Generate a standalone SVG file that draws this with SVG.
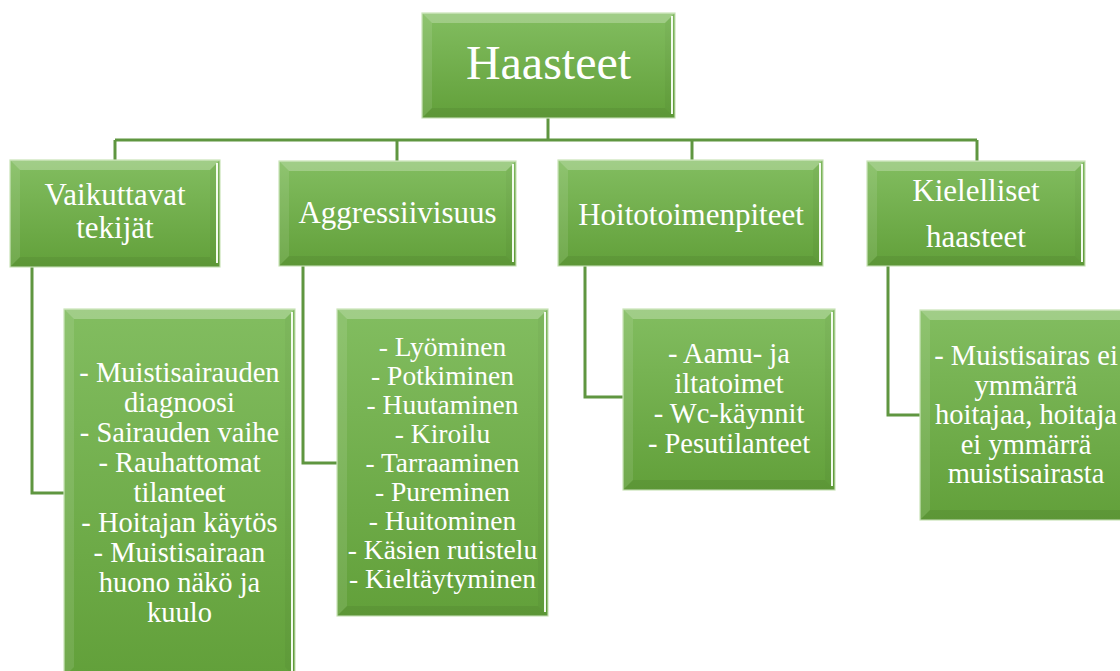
<svg xmlns="http://www.w3.org/2000/svg" width="1120" height="671" viewBox="0 0 1120 671">
<defs>
<linearGradient id="g" x1="0" y1="0" x2="0" y2="1">
<stop offset="0" stop-color="#82bd60"/>
<stop offset="1" stop-color="#62a03a"/>
</linearGradient>
</defs>
<style>
.box{fill:url(#g);stroke:#c9e3b6;stroke-width:1.2}
.bt{fill:#ffffff;fill-opacity:0.25}
.bl{fill:#ffffff;fill-opacity:0.1}
.br{fill:#000000;fill-opacity:0.03}
.bb{fill:#000000;fill-opacity:0.06}
.hl{stroke:#f4fbef;stroke-width:2;fill:none}
.t{font-family:"Liberation Serif","Times New Roman",serif;fill:#ffffff;text-anchor:middle}
.con{fill:none;stroke:#5f9640;stroke-width:3}
</style>
<rect width="1120" height="671" fill="#ffffff"/>
<g id="connectors" class="con">
<path d="M548,118 V140"/>
<path d="M115,140 H977"/>
<path d="M115,140 V160"/>
<path d="M397,140 V161"/>
<path d="M692,140 V160"/>
<path d="M977,140 V161"/>
<path d="M32,267 V493 H64"/>
<path d="M303,266 V463 H337"/>
<path d="M585,266 V397 H623"/>
<path d="M888,266 V415 H920"/>
</g>
<g id="n-haasteet">
<rect class="box" x="422" y="13" width="253" height="105"/>
<polygon class="bt" points="422,13 675,13 665,23 432,23"/>
<polygon class="bl" points="422,13 432,23 432,108 422,118"/>
<polygon class="br" points="675,13 675,118 665,108 665,23"/>
<polygon class="bb" points="422,118 675,118 665,108 432,108"/>
<path class="hl" d="M672,16 V114"/>
<text class="t" x="548.5" y="79" font-size="48">Haasteet</text>
</g>
<g id="n-vaikuttavat">
<rect class="box" x="10" y="160" width="210" height="107"/>
<polygon class="bt" points="10,160 220,160 210,170 20,170"/>
<polygon class="bl" points="10,160 20,170 20,257 10,267"/>
<polygon class="br" points="220,160 220,267 210,257 210,170"/>
<polygon class="bb" points="10,267 220,267 210,257 20,257"/>
<path class="hl" d="M217,163 V263"/>
<text class="t" font-size="31"><tspan x="115" y="205">Vaikuttavat</tspan><tspan x="115" y="238">tekijät</tspan></text>
</g>
<g id="n-aggressiivisuus">
<rect class="box" x="279" y="161" width="237" height="105"/>
<polygon class="bt" points="279,161 516,161 506,171 289,171"/>
<polygon class="bl" points="279,161 289,171 289,256 279,266"/>
<polygon class="br" points="516,161 516,266 506,256 506,171"/>
<polygon class="bb" points="279,266 516,266 506,256 289,256"/>
<path class="hl" d="M513,164 V262"/>
<text class="t" x="397.5" y="223" font-size="31">Aggressiivisuus</text>
</g>
<g id="n-hoitotoimenpiteet">
<rect class="box" x="558" y="160" width="265" height="106"/>
<polygon class="bt" points="558,160 823,160 813,170 568,170"/>
<polygon class="bl" points="558,160 568,170 568,256 558,266"/>
<polygon class="br" points="823,160 823,266 813,256 813,170"/>
<polygon class="bb" points="558,266 823,266 813,256 568,256"/>
<path class="hl" d="M820,163 V262"/>
<text class="t" x="691" y="225" font-size="31">Hoitotoimenpiteet</text>
</g>
<g id="n-kielelliset">
<rect class="box" x="867" y="161" width="218" height="105"/>
<polygon class="bt" points="867,161 1085,161 1075,171 877,171"/>
<polygon class="bl" points="867,161 877,171 877,256 867,266"/>
<polygon class="br" points="1085,161 1085,266 1075,256 1075,171"/>
<polygon class="bb" points="867,266 1085,266 1075,256 877,256"/>
<path class="hl" d="M1082,164 V262"/>
<text class="t" font-size="31"><tspan x="976" y="201">Kielelliset</tspan><tspan x="976" y="247">haasteet</tspan></text>
</g>
<g id="n-c1">
<rect class="box" x="64" y="309" width="231" height="368"/>
<polygon class="bt" points="64,309 295,309 285,319 74,319"/>
<polygon class="bl" points="64,309 74,319 74,667 64,677"/>
<polygon class="br" points="295,309 295,677 285,667 285,319"/>
<path class="hl" d="M292,312 V671"/>
<text class="t" font-size="28.5"><tspan x="179.5" y="382">- Muistisairauden</tspan><tspan x="179.5" y="412">diagnoosi</tspan><tspan x="179.5" y="442">- Sairauden vaihe</tspan><tspan x="179.5" y="472">- Rauhattomat</tspan><tspan x="179.5" y="502">tilanteet</tspan><tspan x="179.5" y="532">- Hoitajan käytös</tspan><tspan x="179.5" y="562">- Muistisairaan</tspan><tspan x="179.5" y="592">huono näkö ja</tspan><tspan x="179.5" y="622">kuulo</tspan></text>
</g>
<g id="n-c2">
<rect class="box" x="337" y="309" width="211" height="307"/>
<polygon class="bt" points="337,309 548,309 538,319 347,319"/>
<polygon class="bl" points="337,309 347,319 347,606 337,616"/>
<polygon class="br" points="548,309 548,616 538,606 538,319"/>
<polygon class="bb" points="337,616 548,616 538,606 347,606"/>
<path class="hl" d="M545,312 V612"/>
<text class="t" font-size="27.5"><tspan x="442.5" y="356">- Lyöminen</tspan><tspan x="442.5" y="385">- Potkiminen</tspan><tspan x="442.5" y="414">- Huutaminen</tspan><tspan x="442.5" y="443">- Kiroilu</tspan><tspan x="442.5" y="472">- Tarraaminen</tspan><tspan x="442.5" y="501">- Pureminen</tspan><tspan x="442.5" y="530">- Huitominen</tspan><tspan x="442.5" y="559">- Käsien rutistelu</tspan><tspan x="442.5" y="588">- Kieltäytyminen</tspan></text>
</g>
<g id="n-c3">
<rect class="box" x="623" y="309" width="212" height="181"/>
<polygon class="bt" points="623,309 835,309 825,319 633,319"/>
<polygon class="bl" points="623,309 633,319 633,480 623,490"/>
<polygon class="br" points="835,309 835,490 825,480 825,319"/>
<polygon class="bb" points="623,490 835,490 825,480 633,480"/>
<path class="hl" d="M832,312 V486"/>
<text class="t" font-size="28.5"><tspan x="729" y="363">- Aamu- ja</tspan><tspan x="729" y="393">iltatoimet</tspan><tspan x="729" y="423">- Wc-käynnit</tspan><tspan x="729" y="453">- Pesutilanteet</tspan></text>
</g>
<g id="n-c4">
<rect class="box" x="920" y="310" width="212" height="210"/>
<polygon class="bt" points="920,310 1132,310 1122,320 930,320"/>
<polygon class="bl" points="920,310 930,320 930,510 920,520"/>
<polygon class="bb" points="920,520 1132,520 1122,510 930,510"/>
<text class="t" font-size="28.5"><tspan x="1026" y="365">- Muistisairas ei</tspan><tspan x="1026" y="394.5">ymmärrä</tspan><tspan x="1026" y="424">hoitajaa, hoitaja</tspan><tspan x="1026" y="453.5">ei ymmärrä</tspan><tspan x="1026" y="483">muistisairasta</tspan></text>
</g>
</svg>
